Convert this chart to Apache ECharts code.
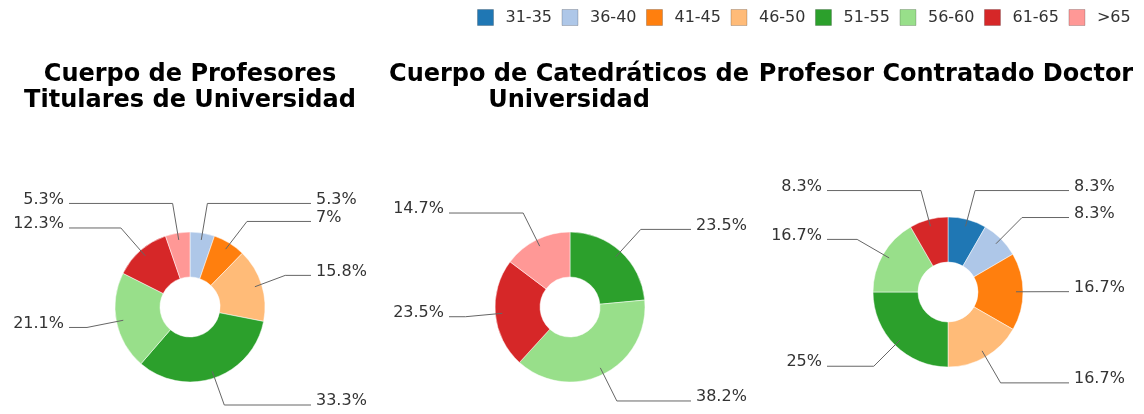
<!DOCTYPE html>
<html>
<head>
<meta charset="utf-8">
<script src="https://cdn.jsdelivr.net/npm/echarts@6/dist/echarts.min.js"></script>
<style>
html, body { margin: 0; padding: 0; background: #fff; }
#main { width: 1144px; height: 414px; }
</style>
</head>
<body>
<div id="main"></div>
<script>
// age groups shared by the three donuts
var ageGroups = ['31-35', '36-40', '41-45', '46-50', '51-55', '56-60', '61-65', '>65'];
var groupColors = ['#1f77b4', '#aec7e8', '#ff7f0e', '#ffbb78', '#2ca02c', '#98df8a', '#d62728', '#ff9896'];

// percentages per group (null = group not present)
var titulares    = [null, 5.3, 7, 15.8, 33.3, 21.1, 12.3, 5.3];
var catedraticos = [null, null, null, null, 23.5, 38.2, 23.5, 14.7];
var contratados  = [8.3, 8.3, 16.7, 16.7, 25, 16.7, 8.3, null];

var chartTitles = [
    'Cuerpo de Profesores\nTitulares de Universidad',
    'Cuerpo de Catedráticos de\nUniversidad',
    'Profesor Contratado Doctor'
];

var myChart = echarts.init(document.getElementById('main'));

function pieData (values) {
    var out = [];
    for (var i = 0; i < ageGroups.length; i++) {
        if (values[i] == null) continue;
        out.push({ name: ageGroups[i], value: values[i], itemStyle: { color: groupColors[i] } });
    }
    return out;
}

var allValues = [titulares, catedraticos, contratados];
var centers = [[190, 307], [570, 307], [948, 292]];
var titleX = [190, 569, 946];
var columnOffset = 121;   // label lines end this far left/right of the centre

// labels sit in one column per side, text pointing away from the ring
function columnLayout (cx) {
    return function (p) {
        var pts = p.labelLinePoints;
        if (!pts) return {};
        var right = pts[1][0] >= cx;
        var endX = right ? cx + columnOffset : cx - columnOffset;
        var y = pts[1][1];
        return {
            x: right ? endX + 5 : endX - 5,
            y: y - 4,
            align: right ? 'left' : 'right',
            verticalAlign: 'middle',
            labelLinePoints: [pts[0], pts[1], [endX, y]]
        };
    };
}

var series = [];
// visible rings
allValues.forEach(function (vals, i) {
    series.push({
        type: 'pie',
        radius: [30, 75],
        center: centers[i],
        startAngle: 90,
        silent: true,
        z: 1,
        label: { show: false },
        labelLine: { show: false },
        itemStyle: { borderColor: '#fff', borderWidth: 0.5 },
        data: pieData(vals)
    });
});
// transparent copies that only carry the labels, so the lines start inside the ring
allValues.forEach(function (vals, i) {
    var d = pieData(vals).map(function (it) {
        return { name: it.name, value: it.value, itemStyle: { color: 'rgba(0,0,0,0)' } };
    });
    series.push({
        type: 'pie',
        radius: [0, 68],
        center: centers[i],
        startAngle: 90,
        silent: true,
        z: 5,
        label: {
            show: true,
            formatter: '{c}%',
            color: '#333',
            fontFamily: 'DejaVu Sans',
            fontSize: 16
        },
        labelLine: {
            show: true,
            length: 37,
            length2: 18,
            lineStyle: { color: '#666', width: 1 }
        },
        labelLayout: columnLayout(centers[i][0]),
        data: d
    });
});

option = {
    backgroundColor: '#fff',
    animation: false,
    title: chartTitles.map(function (t, i) {
        return {
            text: t,
            left: titleX[i],
            top: 62,
            padding: 0,
            textAlign: 'center',
            textStyle: {
                fontFamily: 'DejaVu Sans',
                fontWeight: 'bold',
                fontSize: 24,
                lineHeight: 26,
                color: '#000'
            }
        };
    }),
    legend: {
        data: ageGroups,
        left: 477,
        top: 9,
        padding: 0,
        icon: 'rect',
        itemWidth: 16,
        itemHeight: 16,
        itemGap: 9.5,
        selectedMode: false,
        itemStyle: { borderColor: 'rgba(0,0,0,0.2)', borderWidth: 1 },
        textStyle: {
            fontFamily: 'DejaVu Sans',
            fontSize: 16,
            color: '#333',
            padding: [0, 0, 0, 7]
        }
    },
    series: series
};
myChart.setOption(option);
</script>
</body>
</html>
